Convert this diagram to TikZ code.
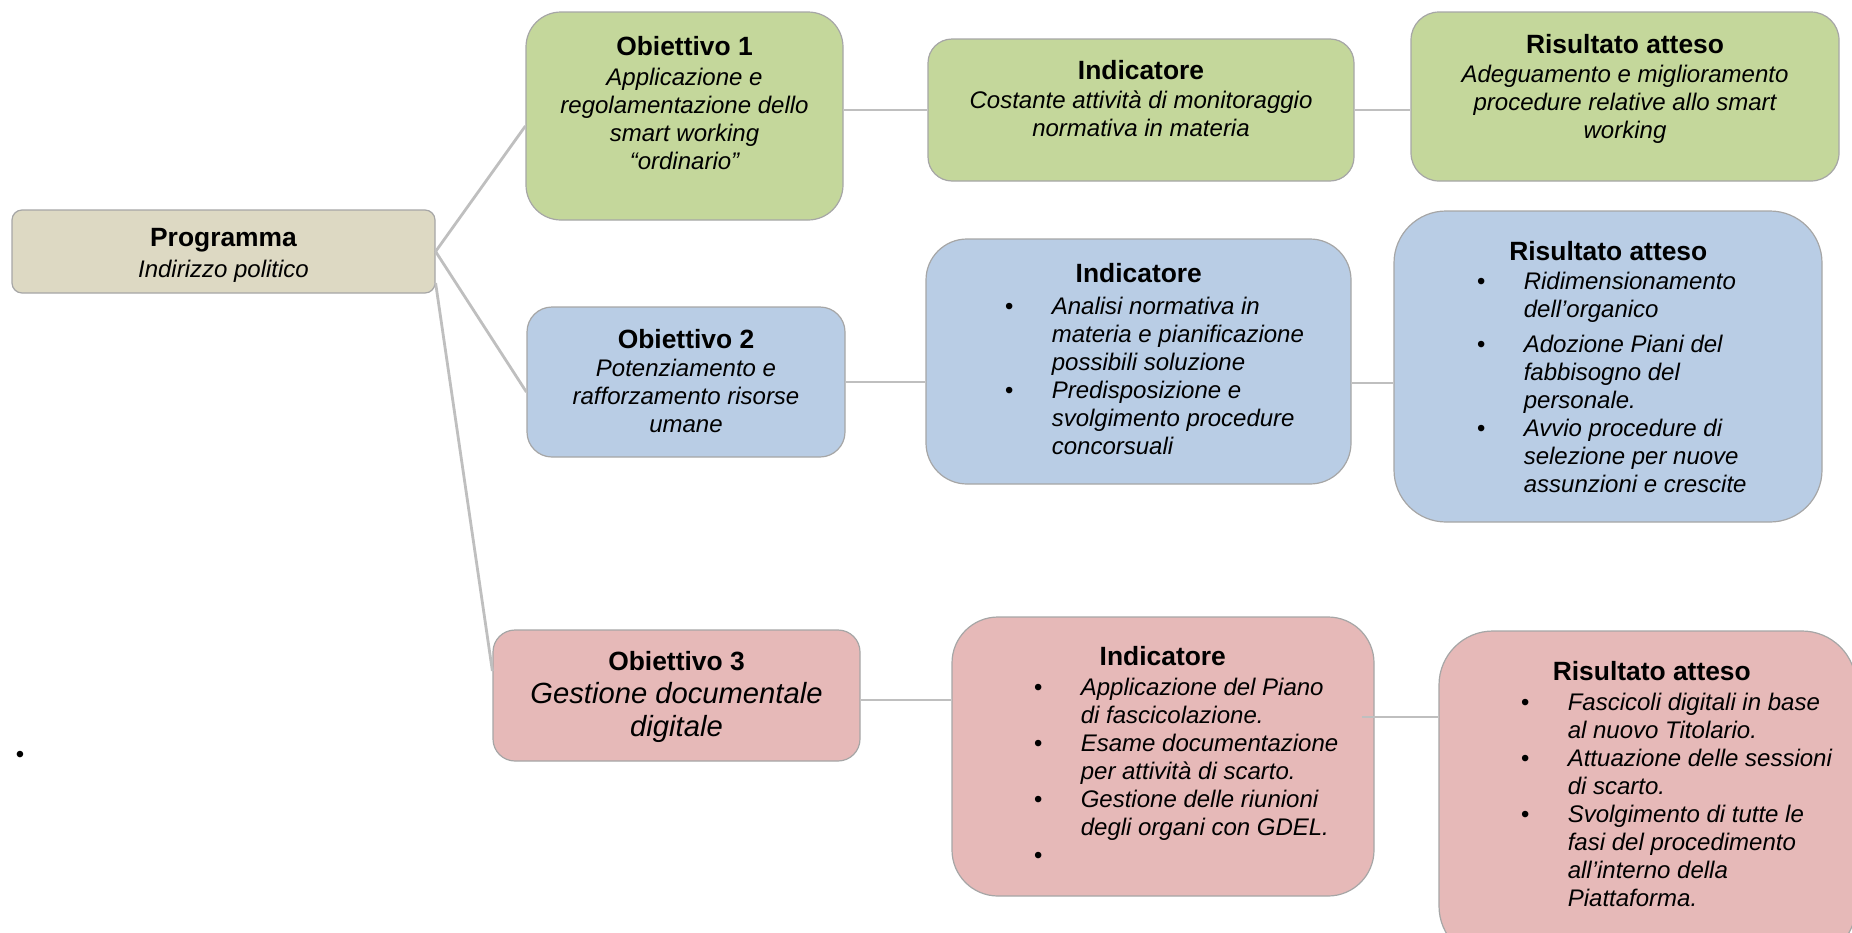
\documentclass[tikz,border=0pt]{standalone}
\usepackage{fontspec}
\setmainfont{Liberation Sans}
\definecolor{verde}{HTML}{C4D79B}
\definecolor{azzurro}{HTML}{B9CDE5}
\definecolor{rosa}{HTML}{E6B9B8}
\definecolor{sabbia}{HTML}{DDD9C3}
\definecolor{bordo}{HTML}{A6A6A6}
\definecolor{linea}{HTML}{BFBFBF}
\newcommand{\titolo}{\upshape\bfseries\fontsize{13.2}{15}\selectfont}
\newcommand{\voce}{\par\noindent\hangindent=23.5pt\hangafter=1\makebox[23.5pt][l]{\textbullet}}
\begin{document}
\begin{tikzpicture}[x=0.5pt,y=-0.5pt,line join=round,
    font=\fontsize{12}{14}\selectfont\itshape,
    riq/.style={draw=bordo,line width=0.6pt,inner sep=0pt},
    testo/.style={inner sep=0pt,align=center,anchor=north},
    elenco/.style={inner sep=0pt,anchor=north west},
    ramo/.style={draw=linea,line width=1.4pt}]
    \useasboundingbox (0,0) rectangle (1852,932);
    \clip (0,0) rectangle (1852,932);
    % caselle
    \node[riq,fill=sabbia,rounded corners=5pt,minimum width=211.5pt,
    minimum height=41.5pt] (prog) at (223.5,251.5) {};
    \node[riq,fill=verde,rounded corners=17.5pt,minimum width=158.5pt,
    minimum height=104pt] (ob1) at (684.5,116) {};
    \node[riq,fill=verde,rounded corners=12pt,minimum width=213pt,
    minimum height=71pt] (ind1) at (1141,110) {};
    \node[riq,fill=verde,rounded corners=14pt,minimum width=214pt,
    minimum height=84.5pt] (ris1) at (1625,96.5) {};
    \node[riq,fill=azzurro,rounded corners=12.5pt,minimum width=159pt,
    minimum height=75pt] (ob2) at (686,382) {};
    \node[riq,fill=azzurro,rounded corners=20.5pt,minimum width=212.5pt,
    minimum height=122.5pt] (ind2) at (1138.5,361.5) {};
    \node[riq,fill=azzurro,rounded corners=26pt,minimum width=214pt,
    minimum height=155.5pt] (ris2) at (1608,366.5) {};
    \node[riq,fill=rosa,rounded corners=11pt,minimum width=183.5pt,
    minimum height=65.5pt] (ob3) at (676.5,695.5) {};
    \node[riq,fill=rosa,rounded corners=23pt,minimum width=211pt,
    minimum height=139.5pt] (ind3) at (1163,756.5) {};
    \node[riq,fill=rosa,rounded corners=27pt,minimum width=208.5pt,
    minimum height=164.5pt] (ris3) at (1647.5,795.5) {};
    % testi
    \node[testo] (prog-t) at ([yshift=-9.5pt]prog.north)
    {{\titolo Programma}\\[1.5pt] Indirizzo politico};
    \node[testo] (ob1-t) at ([yshift=-12.5pt]ob1.north)
    {{\titolo Obiettivo 1}\\[1pt] Applicazione e\\ regolamentazione dello\\
        smart working\\ “ordinario”};
    \node[testo] (ind1-t) at ([yshift=-11pt]ind1.north)
    {{\titolo Indicatore}\\[0.5pt] Costante attività di monitoraggio\\
        normativa in materia};
    \node[testo] (ris1-t) at ([yshift=-11.5pt]ris1.north)
    {{\titolo Risultato atteso}\\[0.5pt] Adeguamento e miglioramento\\
        procedure relative allo smart\\ working};
    \node[testo] (ob2-t) at ([yshift=-11.5pt]ob2.north)
    {{\titolo Obiettivo 2}\\ Potenziamento e\\ rafforzamento risorse\\ umane};
    \node[testo,font=\fontsize{14.6}{16.5}\selectfont\itshape] (ob3-t)
    at ([yshift=-11pt]ob3.north)
    {{\titolo Obiettivo 3}\\ Gestione documentale\\ digitale};
    \node[elenco] (ind2-t) at ([xshift=39.5pt,yshift=-12.5pt]ind2.north west)
    {\parbox[t]{175pt}{\noindent\makebox[134pt]{\titolo Indicatore}\par\vspace{2pt}
        \voce Analisi normativa in\\ materia e pianificazione\\ possibili soluzione
        \voce Predisposizione e\\ svolgimento procedure\\ concorsuali}};
    \node[elenco] (ris2-t) at ([xshift=41.5pt,yshift=-15.5pt]ris2.north west)
    {\parbox[t]{175pt}{\noindent\makebox[131.5pt]{\titolo Risultato atteso}\par\vspace{0.5pt}
        \voce Ridimensionamento\\ dell’organico\par\vspace{3.5pt}
        \voce Adozione Piani del\\ fabbisogno del\\ personale.
        \voce Avvio procedure di\\ selezione per nuove\\ assunzioni e crescite}};
    \node[elenco] (ind3-t) at ([xshift=41pt,yshift=-15pt]ind3.north west)
    {\parbox[t]{175pt}{\noindent\makebox[129pt]{\titolo Indicatore}\par\vspace{1pt}
        \voce Applicazione del Piano\\ di fascicolazione.
        \voce Esame documentazione\\ per attività di scarto.
        \voce Gestione delle riunioni\\ degli organi con GDEL.
        \voce\mbox{}}};
    \node[elenco] (ris3-t) at ([xshift=41pt,yshift=-15.5pt]ris3.north west)
    {\parbox[t]{175pt}{\noindent\makebox[131pt]{\titolo Risultato atteso}\par\vspace{1pt}
        \voce Fascicoli digitali in base\\ al nuovo Titolario.
        \voce Attuazione delle sessioni\\ di scarto.
        \voce Svolgimento di tutte le\\ fasi del procedimento\\
        all’interno della\\ Piattaforma.}};
    \node[font=\fontsize{12}{14}\selectfont] (punto) at (20,757) {\textbullet};
    % collegamenti
    \draw[ramo] (prog.east) -- ([yshift=-5pt]ob1.west);
    \draw[ramo] (prog.east) -- ([yshift=-5pt]ob2.west);
    \draw[ramo] ([yshift=-15.75pt]prog.east) -- ([yshift=12.25pt]ob3.west);
    \draw[ramo] (ob1.east |- ind1.west) -- (ind1.west);
    \draw[ramo] (ind1.east) -- (ind1.east -| ris1.west);
    \draw[ramo] (ob2.east) -- (ob2.east -| ind2.west);
    \draw[ramo] ([yshift=-10.75pt]ind2.east) -- ([yshift=-10.75pt]ind2.east -| ris2.west);
    \draw[ramo] ([yshift=-2.25pt]ob3.east) -- ([yshift=-2.25pt]ob3.east -| ind3.west);
    \draw[ramo] ([xshift=-6.5pt,yshift=19.75pt]ind3.east)
    -- ([yshift=19.75pt]ind3.east -| ris3.west);
\end{tikzpicture}
\end{document}
